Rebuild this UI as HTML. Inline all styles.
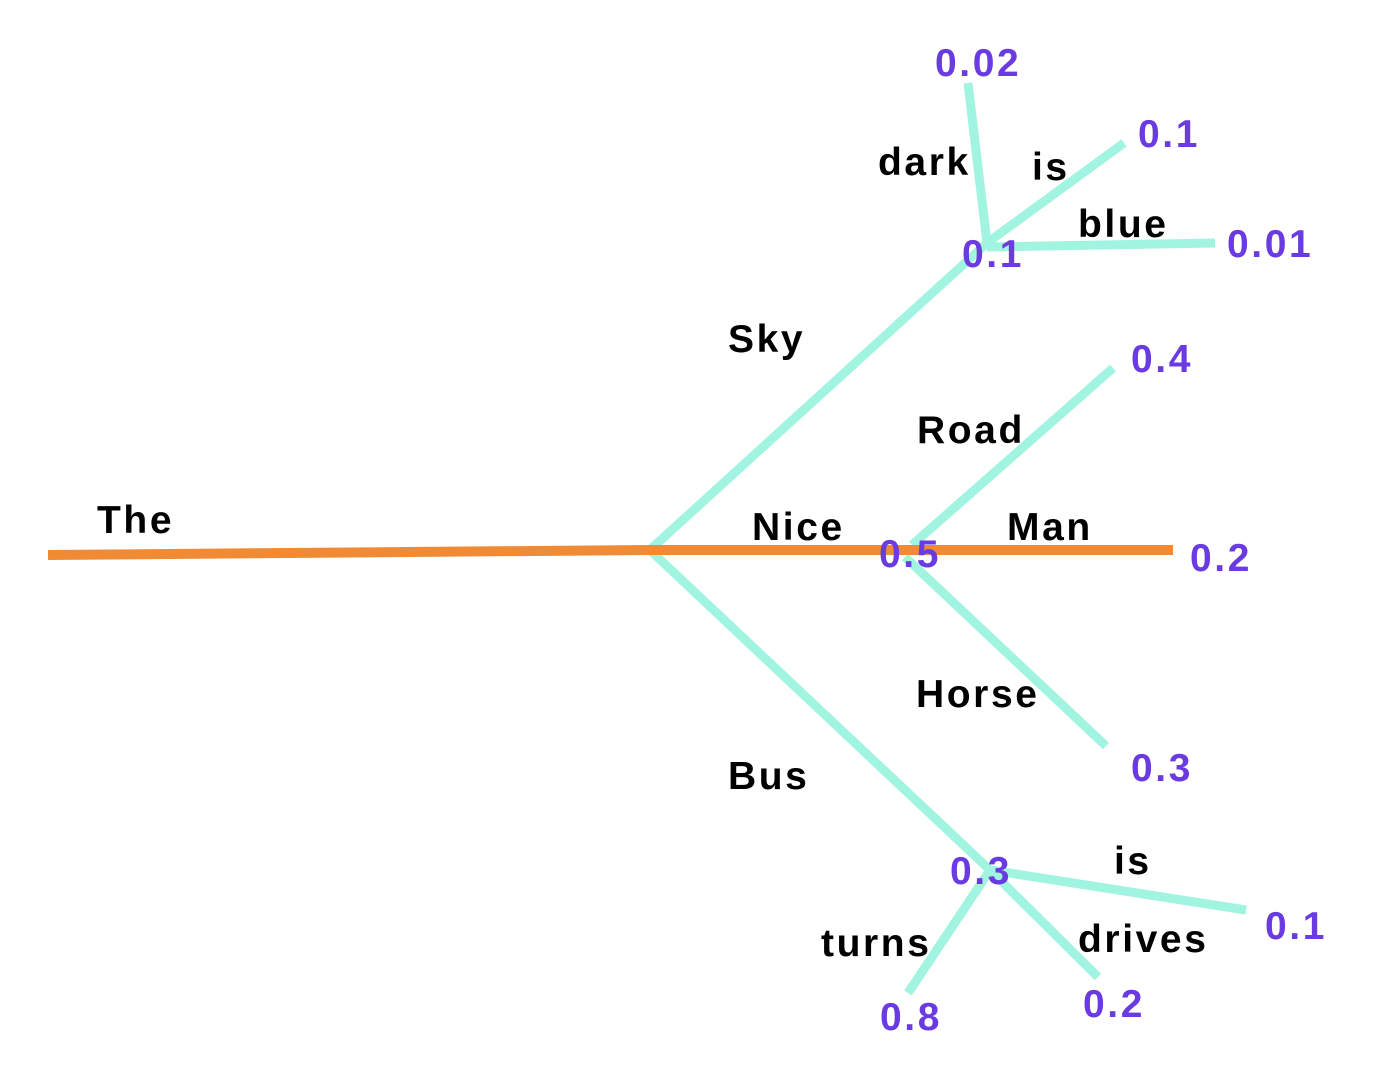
<!DOCTYPE html>
<html><head><style>body{margin:0;background:#fff}svg{display:block}</style></head><body>
<svg width="1396" height="1066" viewBox="0 0 1396 1066" xmlns="http://www.w3.org/2000/svg">
<g stroke="#a0f4e0" stroke-width="9" fill="none">
<line x1="652" y1="548" x2="987" y2="243"/>
<line x1="987" y1="243" x2="968" y2="83"/>
<line x1="987" y1="243" x2="1124" y2="143"/>
<line x1="987" y1="247" x2="1215" y2="243"/>
<line x1="912" y1="545" x2="1113" y2="368"/>
<line x1="905" y1="557" x2="1106" y2="746"/>
<line x1="652" y1="552" x2="990" y2="870"/>
<line x1="990" y1="870" x2="1246" y2="910"/>
<line x1="990" y1="870" x2="1098" y2="977"/>
<line x1="990" y1="870" x2="908" y2="993"/>
</g>
<polyline points="48,555 652,550 1173,550" stroke="#f08a35" stroke-width="10" fill="none"/>
<g font-family="Liberation Sans, sans-serif" font-weight="bold" font-size="39" letter-spacing="2.6">
<g fill="#000">
<text x="97" y="533">The</text>
<text x="878" y="175">dark</text>
<text x="1032" y="180">is</text>
<text x="1078" y="237">blue</text>
<text x="728" y="352">Sky</text>
<text x="917" y="443">Road</text>
<text x="752" y="540">Nice</text>
<text x="1007" y="540">Man</text>
<text x="916" y="707">Horse</text>
<text x="728" y="789">Bus</text>
<text x="1114" y="874">is</text>
<text x="821" y="956">turns</text>
<text x="1078" y="952">drives</text>
</g>
<g fill="#6a3be0">
<text x="935" y="76">0.02</text>
<text x="1138" y="147">0.1</text>
<text x="962" y="267">0.1</text>
<text x="1227" y="257">0.01</text>
<text x="1131" y="372">0.4</text>
<text x="879" y="567">0.5</text>
<text x="1190" y="571">0.2</text>
<text x="1131" y="781">0.3</text>
<text x="950" y="884">0.3</text>
<text x="1265" y="939">0.1</text>
<text x="1083" y="1017">0.2</text>
<text x="880" y="1030">0.8</text>
</g>
</g>
</svg>
</body></html>
